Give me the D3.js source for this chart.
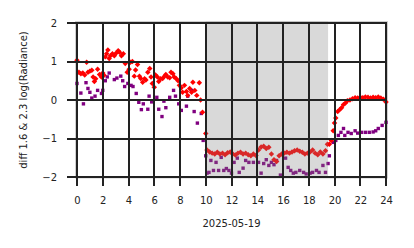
<!DOCTYPE html>
<html lang="en">
<head>
  <meta charset="UTF-8" />
  <title>diff 1.6 & 2.3</title>
  <script src="https://d3js.org/d3.v7.min.js"></script>
  <style>
    body { margin: 0; background: white; }
    text { font-family: "DejaVu Sans", sans-serif; }
  </style>
</head>
<body>
  <svg id="chart" width="414" height="248"></svg>
  <script>
    // [hour, value]
    const redPoints = [
      [0.0,1.03],[0.15,0.72],[0.3,0.68],[0.45,0.7],[0.6,0.65],[0.75,0.98],[0.85,0.72],[1.0,0.75],
      [1.15,0.77],[1.25,0.6],[1.35,0.48],[1.45,0.55],[1.6,0.8],[1.75,0.66],[1.9,0.6],[2.0,0.7],
      [2.1,0.64],[2.2,1.12],[2.3,1.2],[2.4,1.3],[2.5,1.08],[2.6,1.15],[2.75,1.2],[2.9,1.15],
      [3.05,1.22],[3.2,1.28],[3.3,1.24],[3.45,1.15],[3.6,1.2],[3.75,0.95],[3.9,0.72],[4.05,0.8],
      [4.15,0.98],[4.3,1.0],[4.45,0.62],[4.55,0.78],[4.7,0.92],[4.85,0.62],[4.95,0.56],[5.1,0.46],
      [5.25,0.55],[5.35,0.52],[5.5,0.72],[5.65,0.82],[5.75,0.6],[5.85,0.43],[6.0,0.33],[6.1,0.65],
      [6.25,0.6],[6.35,0.48],[6.5,0.55],[6.65,0.56],[6.8,0.62],[6.9,0.66],[7.05,0.6],[7.2,0.58],
      [7.3,0.72],[7.45,0.68],[7.55,0.6],[7.7,0.56],[7.85,0.5],[7.95,0.38],[8.1,0.32],[8.2,0.2],
      [8.35,0.38],[8.5,0.22],[8.6,0.12],[8.75,0.3],[8.9,0.2],[9.0,0.46],[9.15,0.25],[9.3,0.12],
      [9.5,0.45],[9.6,0.0],[9.75,-0.32],[10.0,-0.87],
      [10.1,-1.3],[10.3,-1.35],[10.5,-1.38],[10.7,-1.4],[10.9,-1.36],[11.1,-1.4],[11.3,-1.38],
      [11.5,-1.42],[11.7,-1.37],[11.9,-1.35],[12.1,-1.4],[12.3,-1.43],[12.5,-1.38],[12.7,-1.36],
      [12.9,-1.4],[13.1,-1.38],[13.3,-1.42],[13.5,-1.45],[13.7,-1.4],[13.9,-1.44],[14.1,-1.3],
      [14.3,-1.22],[14.5,-1.2],[14.7,-1.26],[14.9,-1.23],[15.1,-1.4],[15.3,-1.55],[15.5,-1.6],
      [15.7,-1.45],[15.9,-1.4],[16.1,-1.38],[16.3,-1.36],[16.5,-1.38],[16.7,-1.35],[16.9,-1.32],
      [17.1,-1.3],[17.3,-1.33],[17.5,-1.36],[17.7,-1.4],[17.9,-1.38],[18.1,-1.35],[18.3,-1.3],
      [18.5,-1.38],[18.7,-1.42],[18.9,-1.35],[19.1,-1.4],[19.3,-1.32],[19.45,-1.15],
      [19.6,-1.15],[19.75,-1.05],[19.9,-0.8],[20.0,-0.6],
      [20.1,-0.47],[20.25,-0.3],[20.4,-0.25],[20.55,-0.2],[20.7,-0.12],[20.85,-0.08],[21.0,-0.02],
      [21.2,0.0],[21.4,0.03],[21.6,0.06],[21.8,0.05],[22.0,0.07],[22.2,0.06],[22.4,0.08],
      [22.6,0.07],[22.8,0.05],[23.0,0.07],[23.2,0.06],[23.4,0.08],[23.6,0.05],[23.8,0.02],[24.0,-0.05]
    ];

    const purplePoints = [
      [0.0,0.43],[0.3,0.18],[0.5,-0.1],[0.7,0.45],[0.85,0.3],[1.0,0.2],[1.15,0.05],[1.4,0.1],
      [1.6,0.25],[1.9,0.17],[2.0,0.25],[2.2,0.5],[2.35,0.6],[2.5,0.7],[2.9,0.53],[3.1,0.57],
      [3.4,0.62],[3.55,0.5],[3.7,0.35],[3.95,0.43],[4.2,0.38],[4.35,0.35],[4.6,0.17],[4.8,-0.06],
      [5.0,-0.25],[5.15,-0.1],[5.5,-0.24],[5.6,0.1],[5.8,-0.05],[6.2,0.07],[6.35,-0.24],[6.6,-0.43],
      [6.75,-0.03],[6.9,-0.2],[7.2,0.07],[7.5,0.25],[7.65,0.1],[7.9,-0.1],[8.1,-0.27],[8.5,-0.16],
      [8.6,0.1],[8.9,0.25],[9.1,-0.3],[9.35,-0.6],[9.65,-0.35],[9.8,-1.05],[10.0,-1.45],[10.1,-1.9],
      [10.25,-1.88],[10.4,-1.57],[10.6,-1.83],[10.8,-1.62],[11.0,-1.83],[11.2,-1.49],[11.4,-1.83],
      [11.6,-1.78],[11.8,-1.83],[12.0,-1.9],[12.2,-1.62],[12.45,-1.51],[12.6,-1.88],[12.9,-1.77],
      [13.1,-1.57],[13.35,-1.62],[13.7,-1.62],[14.1,-1.62],[14.3,-1.9],[14.5,-1.65],[14.7,-1.55],
      [14.9,-1.7],[15.1,-1.62],[15.3,-1.68],[15.5,-1.57],[15.8,-1.95],[16.2,-1.51],[16.4,-1.75],
      [16.6,-1.83],[16.8,-1.9],[17.0,-1.88],[17.3,-1.83],[17.6,-1.88],[17.8,-1.92],[18.1,-1.9],
      [18.3,-1.88],[18.6,-1.83],[18.8,-1.88],[19.1,-1.7],[19.3,-1.88],[19.5,-1.65],
      [19.6,-1.45],[19.9,-1.1],[20.1,-1.05],[20.3,-0.92],[20.5,-0.84],[20.7,-0.74],[20.8,-0.92],
      [21.05,-0.84],[21.3,-0.87],[21.6,-0.8],[21.8,-0.86],[22.1,-0.84],[22.4,-0.84],[22.7,-0.84],
      [23.0,-0.83],[23.2,-0.8],[23.4,-0.74],[23.7,-0.66],[24.0,-0.58]
    ];

    const shadedSpan = [10, 19.5];
    const xTicks = [0, 2, 4, 6, 8, 10, 12, 14, 16, 18, 20, 22, 24];
    const yTicks = [-2, -1, 0, 1, 2];
    const xLabel = "2025-05-19";
    const yLabel = "diff 1.6 & 2.3  log(Radiance)";

    const gridColor = "#222222";

    const svg = d3.select("svg#chart");

    const x = d3.scaleLinear().domain([0, 24]).range([77, 386]);
    const y = d3.scaleLinear().domain([-2, 2]).range([177, 23]);

    // light frame
    svg.append("rect")
      .attr("x", 75.5).attr("y", 21.5)
      .attr("width", 312).attr("height", 156.5)
      .attr("fill", "none")
      .attr("stroke", "#d0d0d0")
      .attr("stroke-width", 1);

    const diamond = d3.symbol().type(d3.symbolSquare).size(15);
    const square = d3.symbol().type(d3.symbolSquare).size(11.5);

    svg.append("g").selectAll("path")
      .data(purplePoints)
      .join("path")
      .attr("d", square)
      .attr("fill", "#800080")
      .attr("transform", d => `translate(${x(d[0])},${y(d[1])})`);

    svg.append("g").selectAll("path")
      .data(redPoints)
      .join("path")
      .attr("d", diamond)
      .attr("fill", "#ff0000")
      .attr("transform", d => `translate(${x(d[0])},${y(d[1])}) rotate(45)`);

    // shaded span
    svg.append("rect")
      .attr("x", x(shadedSpan[0]))
      .attr("y", 21.5)
      .attr("width", x(shadedSpan[1]) - x(shadedSpan[0]))
      .attr("height", 156.5)
      .attr("fill", "#808080")
      .attr("fill-opacity", 0.3);

    // grid on top, ticks extend past the frame
    const grid = svg.append("g").attr("class", "grid");
    grid.selectAll("rect.v")
      .data(xTicks)
      .join("rect")
      .attr("class", "v")
      .attr("x", d => Math.round(x(d)) - 1).attr("width", 2)
      .attr("y", y(2) - 1).attr("height", y(-2) - y(2) + 10)
      .attr("fill", gridColor);
    grid.selectAll("rect.h")
      .data(yTicks)
      .join("rect")
      .attr("class", "h")
      .attr("x", x(0) - 10).attr("width", x(24) - x(0) + 11)
      .attr("y", d => Math.round(y(d)) - 1).attr("height", 2)
      .attr("fill", gridColor);

    // tick labels through the axis generators
    const xAxis = d3.axisBottom(x)
      .tickValues(xTicks)
      .tickSize(0)
      .tickPadding(11)
      .tickFormat(d3.format("d"));
    const yAxis = d3.axisLeft(y)
      .tickValues(yTicks)
      .tickSize(0)
      .tickPadding(10)
      .tickFormat(d => d3.format("d")(d).replace("-", "\u2212"));

    const gx = svg.append("g")
      .attr("transform", `translate(0,${y(-2) + 9})`)
      .call(xAxis);
    const gy = svg.append("g")
      .attr("transform", `translate(${x(0) - 10},0)`)
      .call(yAxis);

    [gx, gy].forEach(g => {
      g.select(".domain").remove();
      g.selectAll("line").remove();
      g.selectAll("text")
        .attr("fill", "#222")
        .attr("font-size", 10)
        .style("font-family", "DejaVu Sans");
    });

    svg.append("text")
      .attr("x", (x(0) + x(24)) / 2)
      .attr("y", 227)
      .attr("text-anchor", "middle")
      .attr("font-size", 10)
      .attr("fill", "#222")
      .text(xLabel);

    svg.append("text")
      .attr("transform", `translate(27,${(y(2) + y(-2)) / 2}) rotate(-90)`)
      .attr("text-anchor", "middle")
      .attr("font-size", 10)
      .attr("fill", "#222")
      .text(yLabel);
  </script>
</body>
</html>
